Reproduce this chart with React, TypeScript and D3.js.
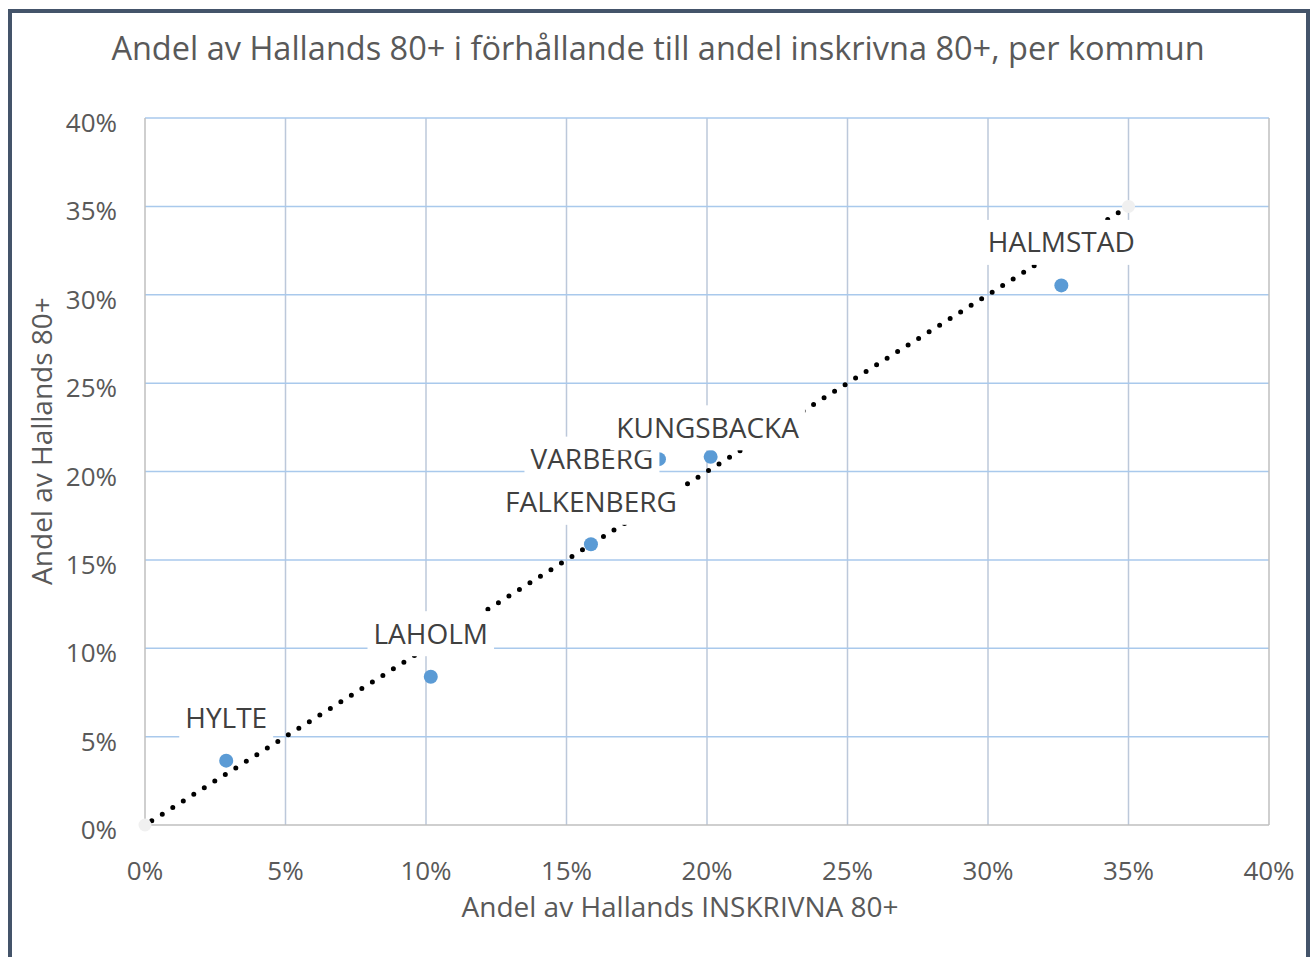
import React, { useEffect, useRef } from "react";
import * as d3 from "d3";

const municipalities = ["HYLTE", "LAHOLM", "FALKENBERG", "VARBERG", "KUNGSBACKA", "HALMSTAD"];
const shareEnrolled = [0.0289, 0.1017, 0.1587, 0.1829, 0.2013, 0.3261];
const shareOf80 = [0.0364, 0.0839, 0.1588, 0.207, 0.2083, 0.3053];
// label placement relative to the point (px)
const labelDx = [0, 0, 0, -67, -3, 0];
const labelDy = [-43, -43, -42, 0, -29, -43];
const refX = [0, 0.35];
const refY = [0, 0.35];
const tickValues = [0, 0.05, 0.1, 0.15, 0.2, 0.25, 0.3, 0.35, 0.4];

const TITLE = "Andel av Hallands 80+ i förhållande till andel inskrivna 80+, per kommun";
const XTITLE = "Andel av Hallands INSKRIVNA 80+";
const YTITLE = "Andel av Hallands 80+";
const FONT = "'Open Sans', 'Noto Sans', sans-serif";

export default function App() {
  const ref = useRef<SVGSVGElement | null>(null);
  useEffect(() => {
    const svg = d3.select(ref.current);
    svg.selectAll("*").remove();
    const x = d3.scaleLinear().domain([0, 0.4]).range([145, 1269]);
    const y = d3.scaleLinear().domain([0, 0.4]).range([825, 118]);
    const fmt = d3.format(".0%");

    svg.append("rect").attr("x", 10).attr("y", 11).attr("width", 1298).attr("height", 970)
      .attr("fill", "#fff").attr("stroke", "#44546A").attr("stroke-width", 4);

    svg.append("text").attr("x", 658).attr("y", 60).attr("text-anchor", "middle")
      .attr("font-family", FONT).attr("font-size", 32.5).attr("fill", "#595959").text(TITLE);

    const g = svg.append("g");
    // vertical grid
    g.selectAll("line.vg").data(tickValues.slice(1, -1)).join("line")
      .attr("x1", (d) => x(d)).attr("x2", (d) => x(d)).attr("y1", y(0.4)).attr("y2", y(0))
      .attr("stroke", "#BCC8DA").attr("stroke-width", 1.5);
    // horizontal grid
    g.selectAll("line.hg").data(tickValues.slice(1)).join("line")
      .attr("x1", x(0)).attr("x2", x(0.4)).attr("y1", (d) => y(d)).attr("y2", (d) => y(d))
      .attr("stroke", "#A9C9EC").attr("stroke-width", 1.5);
    // axes borders
    g.append("line").attr("x1", x(0)).attr("x2", x(0)).attr("y1", y(0.4)).attr("y2", y(0))
      .attr("stroke", "#BFBFBF").attr("stroke-width", 1.5);
    g.append("line").attr("x1", x(0.4)).attr("x2", x(0.4)).attr("y1", y(0.4)).attr("y2", y(0))
      .attr("stroke", "#BFBFBF").attr("stroke-width", 1.5);
    g.append("line").attr("x1", x(0)).attr("x2", x(0.4)).attr("y1", y(0)).attr("y2", y(0))
      .attr("stroke", "#BFBFBF").attr("stroke-width", 1.5);

    // tick labels
    svg.append("g").selectAll("text").data(tickValues).join("text")
      .attr("x", 117).attr("y", (d) => y(d) + 14).attr("text-anchor", "end")
      .attr("font-family", FONT).attr("font-size", 26).attr("fill", "#595959").text((d) => fmt(d));
    svg.append("g").selectAll("text").data(tickValues).join("text")
      .attr("x", (d) => x(d)).attr("y", 880).attr("text-anchor", "middle")
      .attr("font-family", FONT).attr("font-size", 26).attr("fill", "#595959").text((d) => fmt(d));

    // axis titles
    svg.append("text").attr("x", 680).attr("y", 917).attr("text-anchor", "middle")
      .attr("font-family", FONT).attr("font-size", 28).attr("fill", "#595959").text(XTITLE);
    svg.append("text").attr("transform", "translate(52,441) rotate(-90)").attr("text-anchor", "middle")
      .attr("font-family", FONT).attr("font-size", 28).attr("fill", "#595959").text(YTITLE);

    // trend line (dotted)
    const line = d3.line<number>().x((d, i) => x(refX[i])).y((d, i) => y(refY[i]));
    svg.append("path").attr("d", line([0, 1]) as string).attr("fill", "none")
      .attr("stroke", "#000").attr("stroke-width", 5).attr("stroke-linecap", "round")
      .attr("stroke-dasharray", "0 12.41").attr("stroke-dashoffset", 12.41 - 8);

    // reference points
    svg.append("g").selectAll("circle").data(refX).join("circle")
      .attr("cx", (d) => x(d)).attr("cy", (d, i) => y(refY[i])).attr("r", 6.5).attr("fill", "#F0F0F0");

    // data points
    svg.append("g").selectAll("circle").data(municipalities).join("circle")
      .attr("cx", (d, i) => x(shareEnrolled[i])).attr("cy", (d, i) => y(shareOf80[i]))
      .attr("r", 7).attr("fill", "#5B9BD5");

    // labels with white boxes
    const lg = svg.append("g");
    municipalities.forEach((name, i) => {
      const cx = x(shareEnrolled[i]) + labelDx[i];
      const cy = y(shareOf80[i]) + labelDy[i];
      const grp = lg.append("g");
      const rect = grp.append("rect").attr("fill", "#fff");
      const t = grp.append("text").attr("x", cx).attr("y", cy + 10).attr("text-anchor", "middle")
        .attr("font-family", FONT).attr("font-size", 28).attr("fill", "#404040").text(name);
      const w = (t.node() as SVGTextElement).getComputedTextLength();
      rect.attr("x", cx - w / 2 - 6).attr("y", cy - 22.5).attr("width", w + 12).attr("height", 45);
    });
  }, []);
  return (
    <svg ref={ref} width={1314} height={957}
      style={{ position: "absolute", left: 0, top: 0, background: "#fff" }} />
  );
}
